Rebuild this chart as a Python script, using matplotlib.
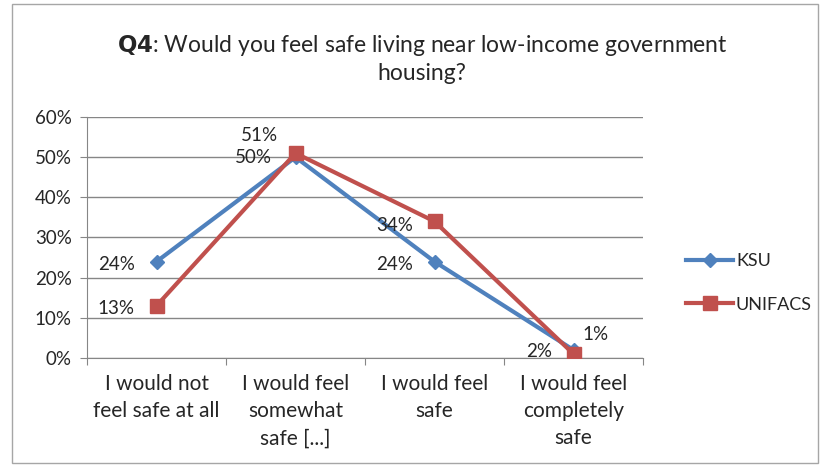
import matplotlib
matplotlib.use("Agg")
import matplotlib.pyplot as plt
from matplotlib.patches import Rectangle
from matplotlib.ticker import FuncFormatter, MultipleLocator

categories = [
    "I would not\nfeel safe at all",
    "I would feel\nsomewhat\nsafe [...]",
    "I would feel\nsafe",
    "I would feel\ncompletely\nsafe",
]
ksu = [24, 50, 24, 2]
unifacs = [13, 51, 34, 1]

blue = "#4F81BD"
red = "#C0504D"
text_col = "#262626"
font = ["Lato", "DejaVu Sans"]
plt.rcParams["font.family"] = font

W, H = 822, 465
fig = plt.figure(figsize=(W / 100, H / 100), dpi=100)

# outer chart frame
fig.patches.append(Rectangle((12 / W, 2 / H), (818 - 12) / W, (461 - 2) / H,
                             transform=fig.transFigure, fill=False,
                             edgecolor="#A6A6A6", linewidth=1.0))

left, right, top, bottom = 87, 643, 117, 358
ax = fig.add_axes([left / W, 1 - bottom / H, (right - left) / W, (bottom - top) / H])

x = list(range(len(categories)))
ax.plot(x, ksu, color=blue, lw=3, marker="D", ms=7, label="KSU", zorder=3)
ax.plot(x, unifacs, color=red, lw=3, marker="s", ms=10, label="UNIFACS", zorder=4)

ax.set_xlim(-0.5, len(categories) - 0.5)
ax.set_ylim(0, 60)
ax.yaxis.set_major_locator(MultipleLocator(10))
ax.yaxis.set_major_formatter(FuncFormatter(lambda v, p: f"{v:.0f}%"))
ax.grid(axis="y", color="#868686", lw=1)
ax.set_axisbelow(True)
for s in ["top", "right"]:
    ax.spines[s].set_visible(False)
ax.spines["left"].set_color("#868686")
ax.spines["bottom"].set_color("#868686")

ax.set_xticks([i - 0.5 for i in range(len(categories) + 1)])
ax.set_xticklabels([""] * (len(categories) + 1))
ax.tick_params(axis="x", length=5, color="#868686")
ax.tick_params(axis="y", length=5, color="#868686", labelsize=13.5, pad=6,
               labelcolor=text_col)
for i, c in enumerate(categories):
    ax.text(i, -4.0, c, ha="center", va="top", fontsize=15, linespacing=1.45,
            color=text_col)

# data labels (offsets in points)
ksu_off = [(-29, -2), (-30, 0), (-29, -2), (-25, -1)]
uni_off = [(-29, -2), (-26, 13), (-29, -3), (16, 14)]
for i, v in enumerate(ksu):
    ax.annotate(f"{v}%", (i, v), xytext=ksu_off[i], textcoords="offset points",
                ha="center", va="center", fontsize=13.5, color=text_col)
for i, v in enumerate(unifacs):
    ax.annotate(f"{v}%", (i, v), xytext=uni_off[i], textcoords="offset points",
                ha="center", va="center", fontsize=13.5, color=text_col)

fig.text(422 / W, 1 - 45 / H,
         r"$\bf{Q4}$: Would you feel safe living near low-income government",
         ha="center", va="center", fontsize=16.5, color=text_col)
fig.text(422 / W, 1 - 74 / H, "housing?", ha="center", va="center",
         fontsize=16.5, color=text_col)

fig.legend(loc="center left", bbox_to_anchor=(670 / W, 1 - 283 / H),
           frameon=False, fontsize=13, handlelength=2.6, labelspacing=1.5,
           handletextpad=0.15, labelcolor=text_col)

fig.savefig("out.png", dpi=100)
